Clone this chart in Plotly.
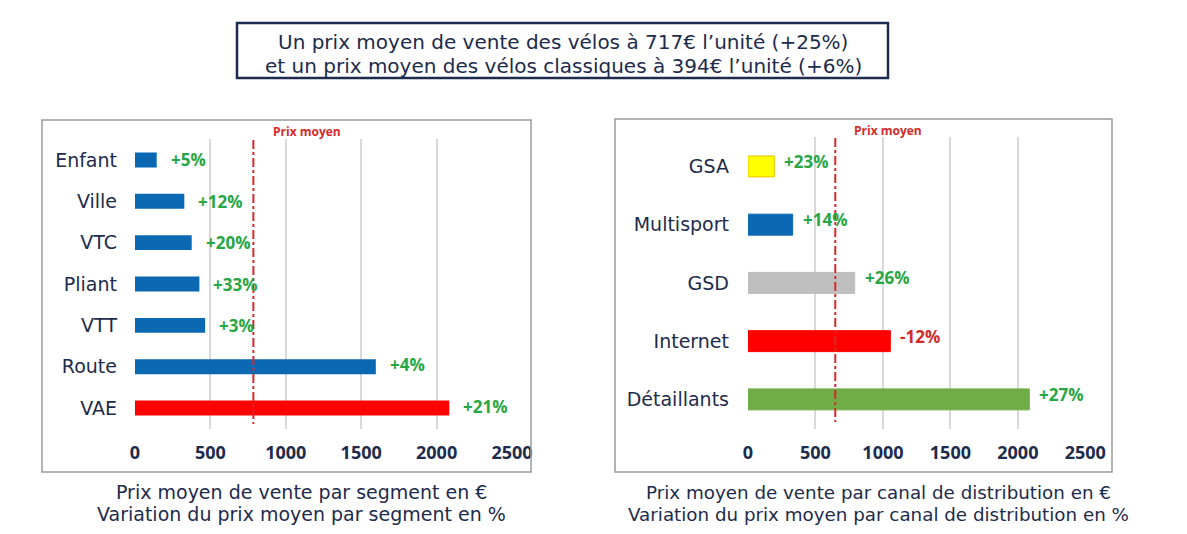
import plotly.graph_objects as go

W, H = 1187, 534

# ---- data ----
seg_cats = ["Enfant", "Ville", "VTC", "Pliant", "VTT", "Route", "VAE"]
seg_prices = [144, 327, 376, 427, 465, 1597, 2084]
seg_var = ["+5%", "+12%", "+20%", "+33%", "+3%", "+4%", "+21%"]
seg_mean = 785

chan_cats = ["GSA", "Multisport", "GSD", "Internet", "Détaillants"]
chan_prices = [195, 331, 791, 1055, 2085]
chan_var = ["+23%", "+14%", "+26%", "-12%", "+27%"]
chan_mean = 647

x_ticks = [0, 500, 1000, 1500, 2000, 2500]

title_lines = ["Un prix moyen de vente des vélos à 717€ l’unité (+25%)",
               "et un prix moyen des vélos classiques à 394€ l’unité (+6%)"]
cap_left = ["Prix moyen de vente par segment en €",
            "Variation du prix moyen par segment en %"]
cap_right = ["Prix moyen de vente par canal de distribution en €",
             "Variation du prix moyen par canal de distribution en %"]

# ---- styles ----
NAVY = "#1d2b4c"
GREEN = "#27a744"
RED = "#d42a2a"
BLUE = "#0b68b3"
FONT = "Open Sans"
WIDE = "DejaVu Sans"

seg_colors = [BLUE] * 6 + ["#ff0000"]
chan_colors = ["#ffff00", BLUE, "#bfbfbf", "#ff0000", "#70ad47"]
chan_lines = ["#e8c400", BLUE, "#bfbfbf", "#ff0000", "#70ad47"]


def py(p):
    return 1 - p / H


def px(p):
    return p / W


fig = go.Figure()
fig.add_trace(go.Bar(y=seg_cats, x=seg_prices, orientation="h", width=0.36,
                     marker=dict(color=seg_colors, line=dict(width=0)),
                     xaxis="x", yaxis="y", hoverinfo="x+y"))
fig.add_trace(go.Bar(y=chan_cats, x=chan_prices, orientation="h", width=0.36,
                     marker=dict(color=chan_colors, line=dict(color=chan_lines, width=1)),
                     xaxis="x2", yaxis="y2", hoverinfo="x+y"))

ann = []
for c, v, t in zip(seg_cats, seg_prices, seg_var):
    ann.append(dict(x=v, y=c, xref="x", yref="y", text=t, showarrow=False,
                    xanchor="left", xshift=12, yshift=2 if v > 1000 else 0,
                    font=dict(family=FONT, size=17, color=GREEN, weight="bold")))
for c, v, t in zip(chan_cats, chan_prices, chan_var):
    col = RED if t.startswith("-") else GREEN
    ann.append(dict(x=v, y=c, xref="x2", yref="y2", text=t, showarrow=False,
                    xanchor="left", xshift=8, yshift=5,
                    font=dict(family=FONT, size=17, color=col, weight="bold")))

# "Prix moyen" labels
ann.append(dict(x=seg_mean, y=py(131), xref="x", yref="paper", text="Prix moyen",
                showarrow=False, xanchor="left", yanchor="middle", xshift=18,
                font=dict(family=FONT, size=12, color=RED, weight="bold")))
ann.append(dict(x=chan_mean, y=py(130), xref="x2", yref="paper", text="Prix moyen",
                showarrow=False, xanchor="left", yanchor="middle", xshift=17,
                font=dict(family=FONT, size=12, color=RED, weight="bold")))

# Title lines
for i, line in enumerate(title_lines):
    ann.append(dict(x=px(563), y=py(42 + 24 * i), xref="paper", yref="paper",
                    xanchor="center", yanchor="middle", text=line, showarrow=False,
                    font=dict(family=WIDE, size=20, color=NAVY)))
# Captions
for i, line in enumerate(cap_left):
    ann.append(dict(x=px(302), y=py(492 + 22 * i), xref="paper", yref="paper",
                    xanchor="center", yanchor="middle", text=line, showarrow=False,
                    font=dict(family=WIDE, size=19, color=NAVY)))
for i, line in enumerate(cap_right):
    ann.append(dict(x=px(878), y=py(492 + 22 * i), xref="paper", yref="paper",
                    xanchor="center", yanchor="middle", text=line, showarrow=False,
                    font=dict(family=WIDE, size=18.3, color=NAVY)))

shapes = [
    # title box
    dict(type="rect", xref="paper", yref="paper", x0=px(237), x1=px(888),
         y0=py(23), y1=py(78), line=dict(color=NAVY, width=2.5)),
    # chart frames
    dict(type="rect", xref="paper", yref="paper", x0=px(42), x1=px(531),
         y0=py(120), y1=py(472), line=dict(color="#9a9a9a", width=1.5)),
    dict(type="rect", xref="paper", yref="paper", x0=px(615), x1=px(1112),
         y0=py(119), y1=py(472), line=dict(color="#9a9a9a", width=1.5)),
    # mean lines
    dict(type="line", xref="x", yref="paper", x0=seg_mean, x1=seg_mean,
         y0=py(140), y1=py(424), line=dict(color=RED, width=2, dash="dashdot"), layer="above"),
    dict(type="line", xref="x2", yref="paper", x0=chan_mean, x1=chan_mean,
         y0=py(138), y1=py(422), line=dict(color=RED, width=2, dash="dashdot"), layer="above"),
]

xcommon = dict(range=[0, 2500], tickvals=x_ticks, showgrid=True, gridcolor="#d9d9d9",
               gridwidth=1.5, zeroline=False, showline=False, ticks="",
               tickfont=dict(family=FONT, size=18, color=NAVY, weight="bold"),
               ticklabelstandoff=11, fixedrange=True)
ycommon = dict(showgrid=False, zeroline=False, showline=False, ticks="",
               tickfont=dict(family=WIDE, size=19, color=NAVY),
               fixedrange=True)

fig.update_layout(
    width=W, height=H, margin=dict(l=0, r=0, t=0, b=0, autoexpand=False),
    autosize=False,
    paper_bgcolor="white", plot_bgcolor="white", showlegend=False,
    xaxis=dict(domain=[px(135), px(512)], anchor="y", **xcommon),
    yaxis=dict(domain=[py(428.7), py(139.3)], anchor="x",
               categoryorder="array", categoryarray=seg_cats,
               range=[6.5, -0.5], ticklabelstandoff=17, **ycommon),
    xaxis2=dict(domain=[px(748), px(1085.3)], anchor="y2", **xcommon),
    yaxis2=dict(domain=[py(428.5), py(137.3)], anchor="x2",
                categoryorder="array", categoryarray=chan_cats,
                range=[4.5, -0.5], ticklabelstandoff=18, **ycommon),
    annotations=ann, shapes=shapes, bargap=0.6,
)

fig.write_html("out.html", config={"responsive": False})
